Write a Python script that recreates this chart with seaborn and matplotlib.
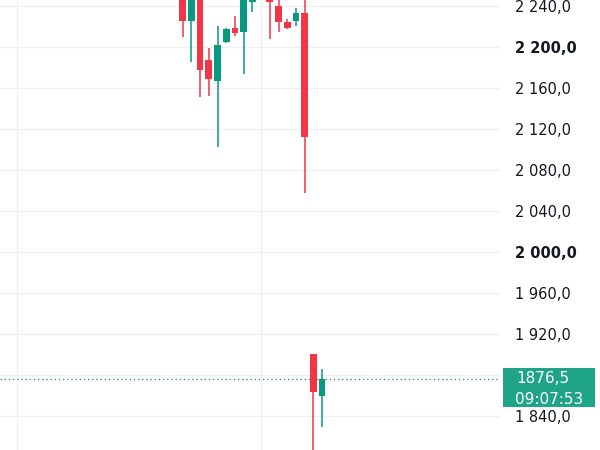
# Candlestick close-up with price label on the right axis
import numpy as np
import pandas as pd
import matplotlib
matplotlib.use("Agg")
import matplotlib.pyplot as plt
from matplotlib.patches import Rectangle
from matplotlib.transforms import blended_transform_factory
import seaborn as sns

# OHLC values (values above the top edge are estimates)
opens  = [2290.0, 2225.4, 2270.0, 2187.3, 2166.8, 2204.6, 2218.2, 2214.3, 2244.0,
          2262.0, 2270.0, 2240.0, 2224.7, 2225.7, 2232.9, 1900.2, 1859.5]
highs  = [2300.0, 2275.0, 2280.0, 2198.7, 2220.8, 2218.8, 2230.5, 2262.0, 2270.0,
          2285.0, 2280.0, 2250.0, 2227.0, 2237.8, 2255.0, 1900.2, 1885.6]
lows   = [2210.0, 2185.1, 2151.5, 2152.2, 2102.7, 2204.0, 2210.7, 2173.7, 2234.0,
          2250.0, 2207.5, 2214.9, 2217.3, 2220.8, 2057.9, 1790.0, 1829.6]
closes = [2225.4, 2265.0, 2177.6, 2168.5, 2202.0, 2217.3, 2214.0, 2255.0, 2260.0,
          2275.0, 2243.6, 2224.1, 2218.8, 2232.9, 2111.9, 1863.1, 1876.5]

y_ticks = [1840, 1880, 1920, 1960, 2000, 2040, 2080, 2120, 2160, 2200, 2240]
bold_ticks = [2000, 2200]
hidden_ticks = [1880]   # sits under the price label
time_grid = [-19, 9]
last_price = 1876.5
countdown = "09:07:53"

df = pd.DataFrame({"open": opens, "high": highs, "low": lows, "close": closes})
df["idx"] = np.arange(len(df))
df["up"] = df["close"] >= df["open"]

UP = "#089981"
DOWN = "#F23645"

sns.set_style("white")
plt.rcParams["font.family"] = ["DejaVu Sans"]

fig = plt.figure(figsize=(6, 4.5), dpi=100)
ax = fig.add_axes([0, 0, 500 / 600, 1])

colors = np.where(df["up"], UP, DOWN)

# wicks
ax.vlines(df["idx"], df["low"], df["high"], colors=colors, linewidth=1.1, zorder=3)

# bodies
body_bottom = df[["open", "close"]].min(axis=1)
body_height = (df["close"] - df["open"]).abs()
ax.bar(df["idx"], body_height, bottom=body_bottom, width=0.77,
       color=colors, linewidth=0, zorder=4)

ax.set_xlim(-20.98, 36.43)
ax.set_ylim(1806.8, 2245.85)

# grid
ax.set_xticks(time_grid)
ax.set_xticklabels([])
ax.set_yticks(y_ticks)
ax.grid(True, color="#eef0f3", linewidth=1)
ax.set_axisbelow(True)
ax.tick_params(axis="x", length=0)

# right price scale
ax.yaxis.tick_right()
ax.tick_params(axis="y", length=0, pad=11, labelsize=10.5, labelcolor="#131722")
labels = []
for v in y_ticks:
    if v in hidden_ticks:
        labels.append("")
    else:
        labels.append(f"{v:,.1f}".replace(",", " ").replace(".", ","))
ax.set_yticklabels(labels, ha="left")
for lab, v in zip(ax.get_yticklabels(), y_ticks):
    if v in bold_ticks:
        lab.set_fontweight("bold")

for s in ax.spines.values():
    s.set_visible(False)

# last price line + label
ax.axhline(last_price, color="#4f8c80", linestyle=(0, (1, 2)), linewidth=1, zorder=2)

trans = blended_transform_factory(ax.transAxes, ax.transData)
ax.add_patch(Rectangle((1.0066, last_price - 27.5), 0.184, 37.8, transform=trans,
                       facecolor="#20a487", edgecolor="none", clip_on=False, zorder=10))
ax.text(1.032, last_price, f"{last_price:.1f}".replace(".", ","), transform=trans,
        color="white", fontsize=11, ha="left", va="center", zorder=11, clip_on=False)
ax.text(1.030, last_price - 20.5, countdown, transform=trans,
        color="white", fontsize=11, ha="left", va="center", zorder=11, clip_on=False)

fig.savefig("out.png", dpi=100)
